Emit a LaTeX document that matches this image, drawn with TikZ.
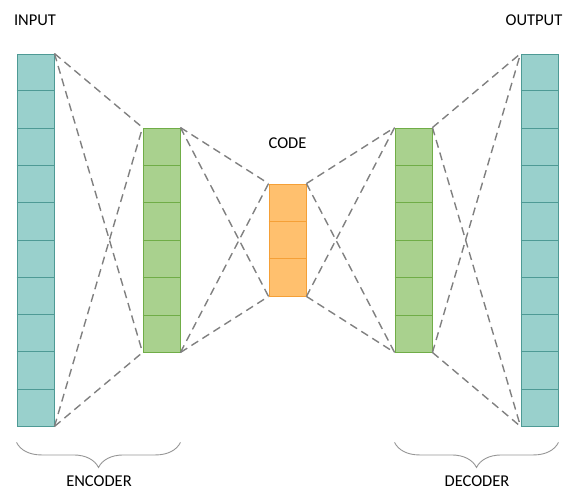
\documentclass[tikz,border=0pt]{standalone}
\usepackage{fontspec}
\setmainfont{Carlito}
\usetikzlibrary{calc,decorations.pathreplacing}
\definecolor{tealfill}{RGB}{153,208,204}
\definecolor{tealline}{RGB}{78,154,149}
\definecolor{greenfill}{RGB}{169,209,142}
\definecolor{greenline}{RGB}{112,173,71}
\definecolor{orangefill}{RGB}{255,192,110}
\definecolor{orangeline}{RGB}{245,160,55}
\definecolor{linkgray}{RGB}{128,128,128}
\definecolor{bracegray}{RGB}{150,150,150}

\begin{document}
\begin{tikzpicture}[x=1pt, y=-1pt,
	layer/.style={draw, minimum width=37pt, inner sep=0pt, line width=0.9pt},
	link/.style={draw=linkgray, line width=1.4pt, dash pattern=on 8pt off 5pt},
	groupbrace/.style={draw=bracegray, line width=0.9pt, decorate,
		decoration={brace, mirror, amplitude=25pt}},
	lbl/.style={font=\fontsize{16.5}{19}\selectfont}]
			%%%%% START %%%%%
			\useasboundingbox (0,0) rectangle (568,490);
			
			% layers
			\node[layer, draw=tealline, fill=tealfill, minimum height=372pt] (input) at (35.5,240) {};
			\node[layer, draw=greenline, fill=greenfill, minimum height=224pt] (encoder) at (161.5,240) {};
			\node[layer, draw=orangeline, fill=orangefill, minimum height=112pt] (code) at (287.5,240) {};
			\node[layer, draw=greenline, fill=greenfill, minimum height=224pt] (decoder) at (413.5,240) {};
			\node[layer, draw=tealline, fill=tealfill, minimum height=372pt] (output) at (539.5,240) {};
			
			% cells
			\foreach \n/\k/\c in {input/10/tealline, encoder/6/greenline, code/3/orangeline, decoder/6/greenline, output/10/tealline}{
				\pgfmathtruncatemacro{\last}{\k-1}
				\foreach \i in {1,...,\last}
					\draw[\c, line width=0.9pt] ($(\n.north west)!\i/\k!(\n.south west)$) -- ($(\n.north east)!\i/\k!(\n.south east)$);
			}
			
			% dashed links
			\foreach \a/\b in {input/encoder, encoder/code, code/decoder, decoder/output}
				\foreach \s in {north east, south east}
					\foreach \t in {north west, south west}
						\draw[link] (\a.\s) -- (\b.\t);
			
			% labels
			\node[lbl] (inlabel) at (35,20) {INPUT};
			\node[lbl] (codelabel) at (287.5,143) {CODE};
			\node[lbl] (outlabel) at (534,20) {OUTPUT};
			
			% braces
			\draw[groupbrace] ($(input.south west)+(0,16)$) -- ($(encoder.south east)+(0,90)$);
			\draw[groupbrace] ($(decoder.south west)+(0,90)$) -- ($(output.south east)+(0,16)$);
			\node[lbl] (enclabel) at (99,481) {ENCODER};
			\node[lbl] (declabel) at (477,481) {DECODER};
			%%%%% END %%%%%
		\end{tikzpicture}
\end{document}
